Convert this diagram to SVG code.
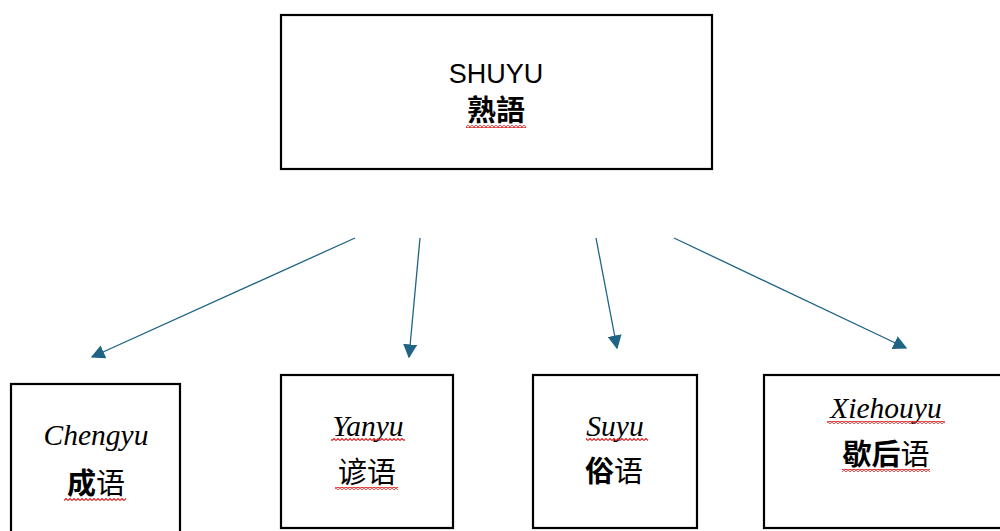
<svg xmlns="http://www.w3.org/2000/svg" width="1000" height="531" viewBox="0 0 1000 531">
<defs>
<style>
.box{fill:#fff;stroke:#000;stroke-width:2.2}
.lat{font-family:"Liberation Serif",serif;font-style:italic;font-size:29.5px;fill:#000;text-anchor:middle}
.sans{font-family:"Liberation Sans",Arial,sans-serif;font-size:27px;fill:#000;text-anchor:middle}
.cjk{font-family:"Noto Sans CJK SC","Noto Sans CJK JP",sans-serif;font-size:29px;fill:#000;text-anchor:middle}
.b{font-weight:bold}
.conn{stroke:#1f6485;stroke-width:1.3;fill:none;marker-end:url(#ah)}
.sq{fill:url(#wave)}
</style>
<marker id="ah" viewBox="0 0 10 10" refX="9" refY="5" markerWidth="14" markerHeight="14" markerUnits="userSpaceOnUse" orient="auto">
<path d="M0,0 L10,5 L0,10 Z" fill="#1f6485"/>
</marker>
<pattern id="wave" patternUnits="userSpaceOnUse" width="4" height="3">
<path d="M0,2.5 L2,0.5 L4,2.5" stroke="#e02020" stroke-width="1.1" fill="none"/>
</pattern>
</defs>
<g id="shuyu">
<rect class="box" x="281" y="15" width="431" height="154"/>
<text class="sans" x="496" y="83">SHUYU</text>
<text class="cjk b" x="496" y="121">熟語</text>
<rect class="sq" x="466" y="125" width="60" height="3"/>
</g>
<g id="chengyu">
<rect class="box" x="11" y="384" width="169" height="150"/>
<text class="lat" x="96" y="445">Chengyu</text>
<text class="cjk" x="96" y="494"><tspan class="b">成</tspan>语</text>
<rect class="sq" x="64" y="498" width="62" height="3"/>
</g>
<g id="yanyu">
<rect class="box" x="281" y="375" width="172" height="153"/>
<text class="lat" x="368" y="436">Yanyu</text>
<rect class="sq" x="331" y="438" width="74" height="3"/>
<text class="cjk" x="367" y="483">谚语</text>
<rect class="sq" x="335" y="487" width="63" height="3"/>
</g>
<g id="suyu">
<rect class="box" x="533" y="375" width="164" height="153"/>
<text class="lat" x="615" y="436">Suyu</text>
<rect class="sq" x="586" y="438" width="62" height="3"/>
<text class="cjk" x="614" y="482"><tspan class="b">俗</tspan>语</text>
</g>
<g id="xiehouyu">
<rect class="box" x="764" y="375" width="240" height="153"/>
<text class="lat" x="886" y="418">Xiehouyu</text>
<rect class="sq" x="827" y="421" width="118" height="3"/>
<text class="cjk" x="886" y="465"><tspan class="b">歇后</tspan>语</text>
<rect class="sq" x="842" y="469" width="88" height="3"/>
</g>
<g id="connectors">
<line class="conn" x1="355" y1="238" x2="92" y2="357"/>
<line class="conn" x1="420" y1="238" x2="409" y2="357"/>
<line class="conn" x1="596" y1="238" x2="617" y2="348"/>
<line class="conn" x1="674" y1="238" x2="906" y2="348"/>
</g>
</svg>
